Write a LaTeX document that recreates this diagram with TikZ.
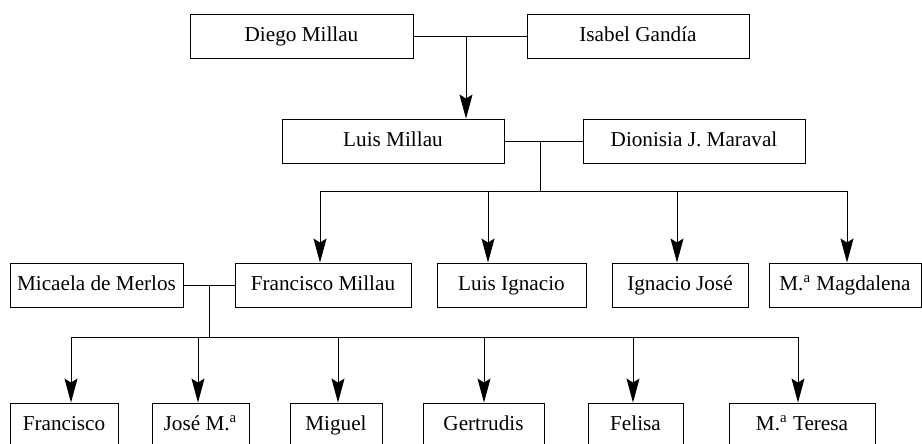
\documentclass[tikz,border=0pt]{standalone}
\usepackage{fontspec}
\setmainfont{Liberation Serif}
\usetikzlibrary{arrows.meta,positioning}

\begin{document}
\begin{tikzpicture}[x=0.5pt, y=-0.5pt, line width=0.45pt,
                    person/.style = {draw, minimum height=22pt, inner sep=0pt,
                    text height=7.4pt, text depth=2.2pt,
                    font=\fontsize{10.6}{12}\selectfont},
                    down/.style = {-{Stealth[length=12pt,width=6.5pt,inset=2pt]}}]
\useasboundingbox (0,0) rectangle (922,444);
% grandparents and parents
\node[person, minimum width=111.5pt] (diego) at (301.5,36) {Diego Millau};
\node[person, minimum width=111pt] (isabel) at (638,36) {Isabel Gandía};
\node[person, minimum width=111pt] (luis) at (393,141) {Luis Millau};
\node[person, minimum width=111pt] (dionisia) at (694,141) {Dionisia J. Maraval};
% children of Luis
\node[person, minimum width=86.5pt] (micaela) at (96.5,285) {Micaela de Merlos};
\node[person, minimum width=88pt] (francisco) at (323,285) {Francisco Millau};
\node[person, minimum width=74.5pt] (luisig) at (511.5,285) {Luis Ignacio};
\node[person, minimum width=68pt] (ignacio) at (680,285) {Ignacio José};
\node[person, minimum width=76pt] (magdalena) at (845,285) {M.\textsuperscript{a} Magdalena};
% children of Francisco
\node[person, minimum width=54pt] (fran) at (64,425) {Francisco};
\node[person, minimum width=48.5pt] (josem) at (200.5,425) {José M.\textsuperscript{a}};
\node[person, minimum width=46pt] (miguel) at (336,425) {Miguel};
\node[person, minimum width=60.5pt] (gertrudis) at (483.5,425) {Gertrudis};
\node[person, minimum width=47.5pt] (felisa) at (635.5,425) {Felisa};
\node[person, minimum width=73pt] (teresa) at (802,425) {M.\textsuperscript{a} Teresa};
% joints
\coordinate (m1) at (466,36);
\coordinate (m2) at (540,141);
\coordinate (b2) at (540,191);
\coordinate (m3) at (209,285);
\coordinate (b3) at (209,337);
\coordinate (p1) at (320,191);
\coordinate (p2) at (488,191);
\coordinate (p3) at (677,191);
\coordinate (p4) at (847,191);
\coordinate (q1) at (71,337);
\coordinate (q2) at (198,337);
\coordinate (q3) at (338,337);
\coordinate (q4) at (484,337);
\coordinate (q5) at (633,337);
\coordinate (q6) at (798,337);
    \path
(diego.east) edge (isabel.west)
(luis.east) edge (dionisia.west)
(micaela.east) edge (francisco.west)
(m2) edge (b2)
(p1) edge (p4)
(m3) edge (b3)
(q1) edge (q6);
    \path[down]
(m1) edge (m1 |- luis.north)
(p1) edge (p1 |- francisco.north)
(p2) edge (p2 |- luisig.north)
(p3) edge (p3 |- ignacio.north)
(p4) edge (p4 |- magdalena.north)
(q1) edge (q1 |- fran.north)
(q2) edge (q2 |- josem.north)
(q3) edge (q3 |- miguel.north)
(q4) edge (q4 |- gertrudis.north)
(q5) edge (q5 |- felisa.north)
(q6) edge (q6 |- teresa.north);
\end{tikzpicture}
\end{document}
